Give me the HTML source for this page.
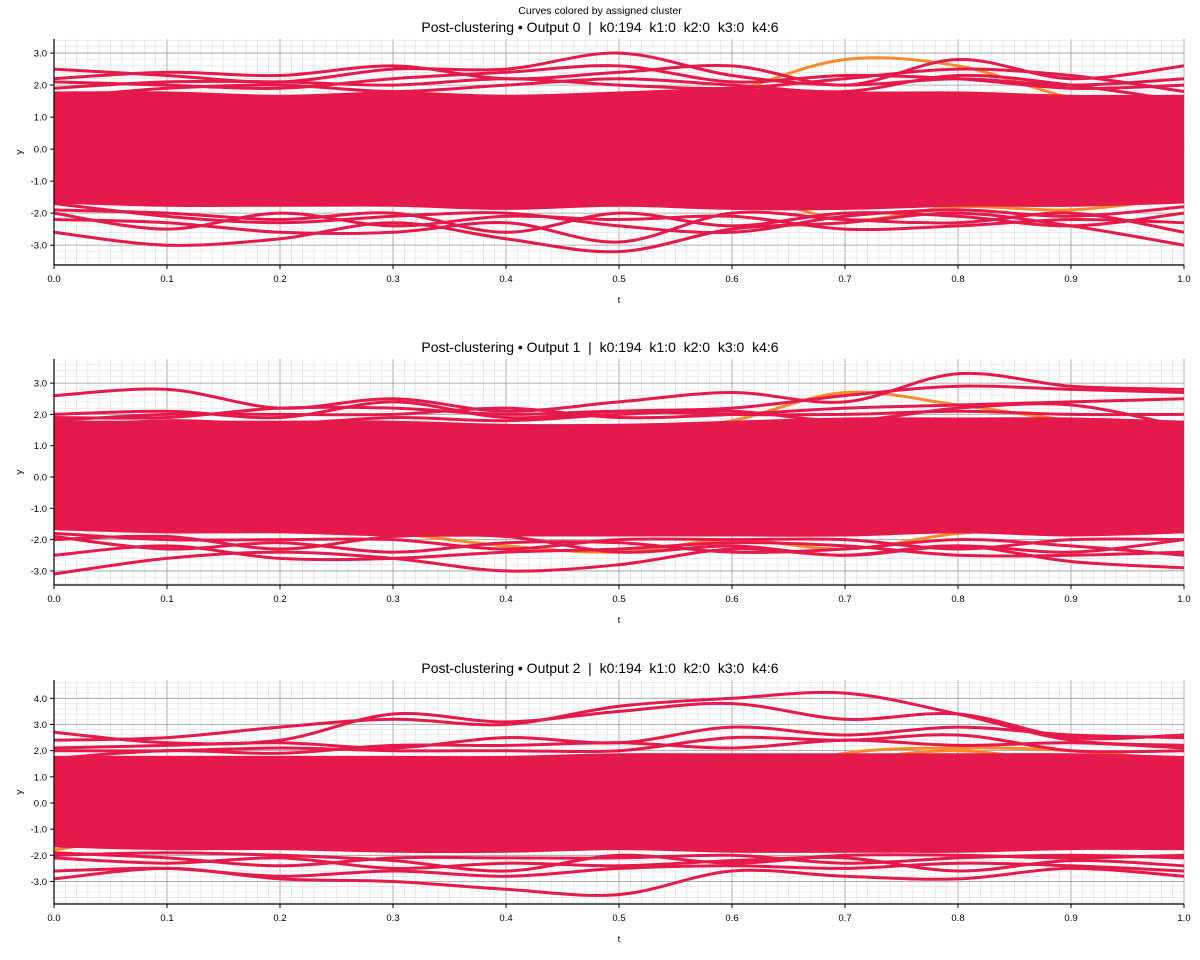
<!DOCTYPE html>
<html><head><meta charset="utf-8">
<style>
html,body{margin:0;padding:0;background:#fff;}
svg{display:block;font-family:"Liberation Sans",sans-serif;}
</style></head>
<body>
<svg id="chart" width="1200" height="960" viewBox="0 0 1200 960">
<text x="600" y="14" text-anchor="middle" font-size="10.5" fill="#000">Curves colored by assigned cluster</text>
</svg>
<script>
// ---- data ----
const tKnots = [0,0.1,0.2,0.3,0.4,0.5,0.6,0.7,0.8,0.9,1.0];
const xTickLabels = ["0.0","0.1","0.2","0.3","0.4","0.5","0.6","0.7","0.8","0.9","1.0"];
const panelTitles = [
 "Post-clustering • Output 0  |  k0:194  k1:0  k2:0  k3:0  k4:6",
 "Post-clustering • Output 1  |  k0:194  k1:0  k2:0  k3:0  k4:6",
 "Post-clustering • Output 2  |  k0:194  k1:0  k2:0  k3:0  k4:6"];
const yTicks0 = [-3,-2,-1,0,1,2,3];
const yTicks1 = [-3,-2,-1,0,1,2,3];
const yTicks2 = [-3,-2,-1,0,1,2,3,4];

// dense core envelope of k0 curves
const bandUpper0 = [1.8,1.8,1.7,1.8,1.7,1.8,1.9,1.8,1.8,1.7,1.7];
const bandLower0 = [-1.7,-1.8,-1.8,-1.8,-1.9,-1.8,-1.9,-1.9,-1.8,-1.8,-1.7];
const bandUpper1 = [1.8,1.8,1.8,1.8,1.7,1.7,1.8,1.9,1.9,1.9,1.8];
const bandLower1 = [-1.7,-1.8,-1.8,-1.9,-1.9,-1.9,-1.9,-1.9,-1.8,-1.9,-1.8];
const bandUpper2 = [1.8,1.8,1.8,1.8,1.8,1.9,1.9,1.9,1.9,1.9,1.8];
const bandLower2 = [-1.7,-1.8,-1.8,-1.9,-1.9,-1.8,-1.9,-1.9,-1.9,-1.8,-1.8];

// individual k0 curves (outer ones)
const red0 = [
 [2.5,2.3,2.1,2.5,2.5,3.0,2.3,2.0,2.2,2.0,2.2],
 [2.2,2.4,2.3,2.6,2.2,2.4,2.6,2.0,2.8,2.2,2.6],
 [1.9,2.1,2.1,2.0,2.2,2.0,1.9,2.2,2.5,2.3,1.8],
 [2.1,2.0,1.9,2.2,2.4,2.6,2.1,2.3,2.2,1.9,2.0],
 [1.6,1.9,2.0,1.8,2.0,2.2,2.0,1.8,2.3,2.0,1.5],
 [-2.6,-3.0,-2.8,-2.3,-2.8,-3.2,-2.5,-2.3,-2.0,-2.4,-3.0],
 [-2.2,-2.3,-2.6,-2.6,-2.3,-2.9,-2.0,-2.2,-2.3,-2.0,-2.6],
 [-1.9,-2.0,-2.2,-2.0,-2.6,-2.0,-2.4,-2.0,-2.1,-2.4,-2.0],
 [-2.0,-2.5,-2.0,-2.4,-2.1,-2.2,-2.1,-2.5,-2.4,-2.2,-2.3],
 [-1.7,-2.1,-2.3,-2.1,-2.0,-2.4,-2.6,-2.1,-1.9,-2.1,-1.8],
 [0.3,-0.5,0.6,-0.2,1.0,-0.6,0.4,-0.3,0.5,-0.8,0.2]
];
const orange0 = [
 [0.5,0.8,0.5,0.7,0.3,1.0,1.8,2.8,2.6,1.6,1.0],
 [-0.5,-0.2,-0.6,0.0,-0.8,-0.4,-1.2,-2.2,-1.8,-1.9,-1.5]
];
const red1 = [
 [2.6,2.8,2.2,2.5,2.1,2.4,2.7,2.4,3.3,2.9,2.8],
 [2.0,2.1,1.9,2.4,1.9,2.1,2.2,2.6,2.9,2.8,2.7],
 [1.8,2.0,2.0,2.0,2.2,1.9,2.0,2.2,2.3,2.4,2.5],
 [1.9,1.9,2.2,2.2,2.0,2.1,2.0,2.0,2.1,2.0,2.0],
 [1.6,1.8,1.7,1.9,1.8,2.0,2.1,1.8,2.2,2.3,1.6],
 [-3.1,-2.6,-2.4,-2.6,-3.0,-2.8,-2.3,-2.5,-2.2,-2.7,-2.9],
 [-2.5,-2.2,-2.6,-2.6,-2.4,-2.3,-2.1,-2.2,-2.5,-2.5,-2.4],
 [-1.9,-2.3,-2.1,-2.4,-2.1,-2.1,-2.4,-2.3,-2.0,-2.2,-2.5],
 [-1.8,-2.0,-2.0,-2.0,-2.3,-2.0,-2.0,-2.0,-2.3,-2.0,-2.0],
 [-2.0,-1.9,-2.3,-1.9,-1.9,-2.4,-2.2,-2.5,-2.2,-2.4,-2.0],
 [0.4,-0.3,0.5,-0.6,0.2,0.6,-0.4,0.3,-0.5,0.4,-0.2]
];
const orange1 = [
 [1.6,1.0,0.8,1.2,1.5,1.3,1.8,2.7,2.3,1.8,1.4],
 [-1.5,-1.2,-1.6,-1.8,-2.2,-2.4,-2.0,-2.3,-1.8,-1.6,-1.4]
];
const red2 = [
 [2.7,2.3,2.4,3.4,3.1,3.5,3.8,3.2,3.4,2.5,2.6],
 [2.4,2.5,2.9,3.2,3.0,3.7,4.0,4.2,3.4,2.4,2.2],
 [2.1,2.2,2.3,2.1,2.5,2.3,2.9,2.6,2.9,2.6,2.5],
 [2.0,2.0,2.1,2.0,2.0,2.0,2.5,2.4,2.6,2.0,2.0],
 [1.7,2.0,1.9,2.2,2.2,2.3,2.1,2.4,2.2,2.3,2.1],
 [-2.9,-2.5,-2.9,-3.0,-3.3,-3.5,-2.6,-2.8,-2.9,-2.5,-2.8],
 [-2.6,-2.5,-2.8,-2.6,-2.8,-2.5,-2.4,-2.5,-2.3,-2.4,-2.6],
 [-2.1,-2.3,-2.1,-2.5,-2.3,-2.4,-2.2,-2.1,-2.6,-2.2,-2.4],
 [-1.9,-2.1,-2.4,-2.1,-2.1,-2.1,-2.0,-2.3,-2.1,-2.0,-2.1],
 [-2.0,-1.9,-2.0,-2.2,-2.6,-2.0,-2.3,-2.0,-2.0,-2.1,-2.0],
 [0.2,0.6,-0.4,0.5,-0.3,0.4,-0.6,0.3,0.5,-0.4,0.1]
];
const orange2 = [
 [-1.8,-1.2,-1.5,-0.8,-0.4,0.3,1.0,1.6,2.0,1.5,1.2],
 [0.6,0.3,-0.5,-0.8,-1.2,-0.5,0.8,1.9,2.1,2.0,1.6],
 [-1.5,-1.6,-1.7,-1.4,-1.0,-0.8,-0.4,0.2,0.6,0.8,0.9]
];

const panels = [
 {top:39,bottom:265,ymin:-3.62,ymax:3.44,ticks:yTicks0,up:bandUpper0,lo:bandLower0,red:red0,org:orange0},
 {top:359,bottom:585,ymin:-3.45,ymax:3.77,ticks:yTicks1,up:bandUpper1,lo:bandLower1,red:red1,org:orange1},
 {top:680,bottom:904,ymin:-3.86,ymax:4.7,ticks:yTicks2,up:bandUpper2,lo:bandLower2,red:red2,org:orange2}
];
const X0=54, X1=1184, RED="#e5194a", ORANGE="#f68b2a";
const NS="http://www.w3.org/2000/svg";
const svg=document.getElementById('chart');
function mk(tag,attrs,parent){const e=document.createElementNS(NS,tag);for(const k in attrs)e.setAttribute(k,attrs[k]);(parent||svg).appendChild(e);return e;}
function xs(t){return X0+(X1-X0)*t;}
function smoothPath(pts){
 let d="M"+pts[0][0].toFixed(1)+","+pts[0][1].toFixed(1);
 for(let i=0;i<pts.length-1;i++){
  const p0=pts[Math.max(0,i-1)],p1=pts[i],p2=pts[i+1],p3=pts[Math.min(pts.length-1,i+2)];
  const c1=[p1[0]+(p2[0]-p0[0])/6,p1[1]+(p2[1]-p0[1])/6];
  const c2=[p2[0]-(p3[0]-p1[0])/6,p2[1]-(p3[1]-p1[1])/6];
  d+="C"+c1[0].toFixed(1)+","+c1[1].toFixed(1)+" "+c2[0].toFixed(1)+","+c2[1].toFixed(1)+" "+p2[0].toFixed(1)+","+p2[1].toFixed(1);
 }
 return d;
}
panels.forEach((p,pi)=>{
 const ys=v=>p.bottom-(v-p.ymin)/(p.ymax-p.ymin)*(p.bottom-p.top);
 const g=mk('g',{});
 
 
 const grid=mk('g',{},g);
 
 
 for(let i=0;i<=100;i++){const x=xs(i/100);mk('line',{x1:x,x2:x,y1:p.top,y2:p.bottom,stroke:i%10==0?"#999":"#ddd","stroke-width":i%10==0?0.8:0.6},grid);}
 const start=Math.ceil(p.ymin*5),end=Math.floor(p.ymax*5);
 for(let j=start;j<=end;j++){const y=ys(j/5);mk('line',{x1:X0,x2:X1,y1:y,y2:y,stroke:j%5==0?"#999":"#ddd","stroke-width":j%5==0?0.8:0.6},grid);}
 // orange (k4) curves drawn first: mostly hidden under the k0 mass
 p.org.forEach((c,ci)=>{
  const e=mk('path',{d:smoothPath(tKnots.map((t,i)=>[xs(t),ys(c[i])])),fill:"none",stroke:ORANGE,"stroke-width":3},g);
  
  
 });
 // band
 const upPts=tKnots.map((t,i)=>[xs(t),ys(p.up[i])]);
 const loPts=tKnots.map((t,i)=>[xs(t),ys(p.lo[i])]).reverse();
 const band=mk('path',{d:smoothPath(upPts)+"L"+smoothPath(loPts).slice(1)+"Z",fill:RED},g);
 
 
 p.red.forEach((c,ci)=>{
  const e=mk('path',{d:smoothPath(tKnots.map((t,i)=>[xs(t),ys(c[i])])),fill:"none",stroke:RED,"stroke-width":3},g);
  
  
 });
 mk('line',{x1:X0,x2:X0,y1:p.top,y2:p.bottom,stroke:"#000","stroke-width":1.2},g);
 mk('line',{x1:X0,x2:X1,y1:p.bottom,y2:p.bottom,stroke:"#000","stroke-width":1.2},g);
 xTickLabels.forEach((lab,i)=>{
  const x=xs(tKnots[i]);
  mk('line',{x1:x,x2:x,y1:p.bottom,y2:p.bottom+4,stroke:"#000"},g);
  const t=mk('text',{x:x,y:p.bottom+17,"text-anchor":"middle","font-size":9.5,fill:"#000"},g);
  t.textContent=lab;
  
  
 });
 p.ticks.forEach(v=>{
  const y=ys(v);
  mk('line',{x1:X0-4,x2:X0,y1:y,y2:y,stroke:"#000"},g);
  const t=mk('text',{x:X0-7,y:y+3.5,"text-anchor":"end","font-size":9.5,fill:"#000"},g);
  t.textContent=v.toFixed(1);
  
  
 });
 const xt=mk('text',{x:(X0+X1)/2,y:p.bottom+38,"text-anchor":"middle","font-size":9.5,fill:"#000"},g);
 xt.textContent="t";
 
 
 const yt=mk('text',{x:22,y:(p.top+p.bottom)/2,"text-anchor":"middle","font-size":9.5,fill:"#000",transform:"rotate(-90 22 "+((p.top+p.bottom)/2)+")"},g);
 yt.textContent="y";
 
 
 const tt=mk('text',{x:600,y:p.top-7,"text-anchor":"middle","font-size":14,fill:"#000"},g);
 tt.setAttribute('style','white-space:pre');
 tt.textContent=panelTitles[pi];
 
 
});
</script>
</body></html>
